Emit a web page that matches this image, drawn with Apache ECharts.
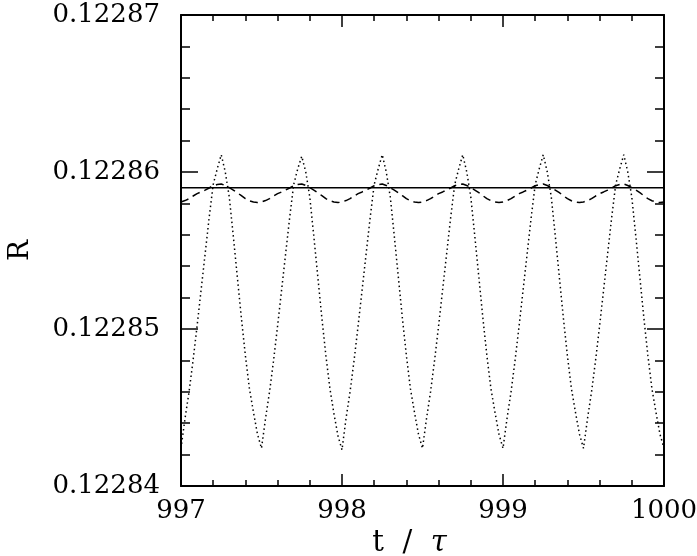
<!DOCTYPE html>
<html>
<head>
<meta charset="utf-8">
<script src="https://cdn.jsdelivr.net/npm/echarts@6/dist/echarts.min.js"></script>
<style>
  html, body { margin: 0; padding: 0; background: #fff; }
  #chart { width: 697px; height: 556px; }
</style>
</head>
<body>
<div id="chart"></div>
<script>
// sample times t / tau
const times = [
  997.000, 997.025, 997.050, 997.075, 997.100, 997.125, 997.150, 997.175, 997.200, 997.225,
  997.250, 997.275, 997.300, 997.325, 997.350, 997.375, 997.400, 997.425, 997.450, 997.475,
  997.500, 997.525, 997.550, 997.575, 997.600, 997.625, 997.650, 997.675, 997.700, 997.725,
  997.750, 997.775, 997.800, 997.825, 997.850, 997.875, 997.900, 997.925, 997.950, 997.975,
  998.000, 998.025, 998.050, 998.075, 998.100, 998.125, 998.150, 998.175, 998.200, 998.225,
  998.250, 998.275, 998.300, 998.325, 998.350, 998.375, 998.400, 998.425, 998.450, 998.475,
  998.500, 998.525, 998.550, 998.575, 998.600, 998.625, 998.650, 998.675, 998.700, 998.725,
  998.750, 998.775, 998.800, 998.825, 998.850, 998.875, 998.900, 998.925, 998.950, 998.975,
  999.000, 999.025, 999.050, 999.075, 999.100, 999.125, 999.150, 999.175, 999.200, 999.225,
  999.250, 999.275, 999.300, 999.325, 999.350, 999.375, 999.400, 999.425, 999.450, 999.475,
  999.500, 999.525, 999.550, 999.575, 999.600, 999.625, 999.650, 999.675, 999.700, 999.725,
  999.750, 999.775, 999.800, 999.825, 999.850, 999.875, 999.900, 999.925, 999.950, 999.975,
  1000.000
];

// dotted curve
const dottedR = [
  0.1228424, 0.1228443, 0.1228460, 0.1228480, 0.1228502, 0.1228525, 0.1228548, 0.1228571, 0.1228592, 0.1228602,
  0.1228611, 0.1228600, 0.1228584, 0.1228559, 0.1228533, 0.1228507, 0.1228483, 0.1228462, 0.1228447, 0.1228433,
  0.1228424, 0.1228443, 0.1228460, 0.1228480, 0.1228502, 0.1228525, 0.1228548, 0.1228571, 0.1228592, 0.1228602,
  0.1228610, 0.1228600, 0.1228584, 0.1228559, 0.1228533, 0.1228507, 0.1228483, 0.1228462, 0.1228446, 0.1228432,
  0.1228423, 0.1228443, 0.1228460, 0.1228480, 0.1228502, 0.1228525, 0.1228548, 0.1228571, 0.1228592, 0.1228602,
  0.1228611, 0.1228600, 0.1228584, 0.1228559, 0.1228533, 0.1228507, 0.1228483, 0.1228462, 0.1228447, 0.1228433,
  0.1228424, 0.1228443, 0.1228460, 0.1228480, 0.1228502, 0.1228525, 0.1228548, 0.1228571, 0.1228592, 0.1228602,
  0.1228611, 0.1228600, 0.1228584, 0.1228559, 0.1228533, 0.1228507, 0.1228483, 0.1228462, 0.1228447, 0.1228433,
  0.1228424, 0.1228443, 0.1228460, 0.1228480, 0.1228502, 0.1228525, 0.1228548, 0.1228571, 0.1228592, 0.1228602,
  0.1228611, 0.1228600, 0.1228584, 0.1228559, 0.1228533, 0.1228507, 0.1228483, 0.1228462, 0.1228447, 0.1228433,
  0.1228424, 0.1228443, 0.1228460, 0.1228480, 0.1228502, 0.1228525, 0.1228548, 0.1228571, 0.1228592, 0.1228602,
  0.1228611, 0.1228600, 0.1228584, 0.1228559, 0.1228533, 0.1228507, 0.1228483, 0.1228462, 0.1228447, 0.1228433,
  0.1228424
];

// dashed curve
const dashedR = [
  0.12285809, 0.12285818, 0.12285830, 0.12285847, 0.12285862, 0.12285873, 0.12285885, 0.12285898, 0.12285913, 0.12285920,
  0.12285924, 0.12285914, 0.12285900, 0.12285885, 0.12285868, 0.12285849, 0.12285830, 0.12285817, 0.12285809, 0.12285805,
  0.12285809, 0.12285818, 0.12285830, 0.12285847, 0.12285862, 0.12285873, 0.12285885, 0.12285898, 0.12285913, 0.12285920,
  0.12285924, 0.12285914, 0.12285900, 0.12285885, 0.12285868, 0.12285849, 0.12285830, 0.12285817, 0.12285809, 0.12285805,
  0.12285809, 0.12285818, 0.12285830, 0.12285847, 0.12285862, 0.12285873, 0.12285885, 0.12285898, 0.12285913, 0.12285920,
  0.12285924, 0.12285914, 0.12285900, 0.12285885, 0.12285868, 0.12285849, 0.12285830, 0.12285817, 0.12285809, 0.12285805,
  0.12285809, 0.12285818, 0.12285830, 0.12285847, 0.12285862, 0.12285873, 0.12285885, 0.12285898, 0.12285913, 0.12285920,
  0.12285924, 0.12285914, 0.12285900, 0.12285885, 0.12285868, 0.12285849, 0.12285830, 0.12285817, 0.12285809, 0.12285805,
  0.12285809, 0.12285818, 0.12285830, 0.12285847, 0.12285862, 0.12285873, 0.12285885, 0.12285898, 0.12285913, 0.12285920,
  0.12285924, 0.12285914, 0.12285900, 0.12285885, 0.12285868, 0.12285849, 0.12285830, 0.12285817, 0.12285809, 0.12285805,
  0.12285809, 0.12285818, 0.12285830, 0.12285847, 0.12285862, 0.12285873, 0.12285885, 0.12285898, 0.12285913, 0.12285920,
  0.12285924, 0.12285914, 0.12285900, 0.12285885, 0.12285868, 0.12285849, 0.12285830, 0.12285817, 0.12285809, 0.12285805,
  0.12285809
];

// solid (constant) line
const solidT = [997, 1000];
const solidR = [0.1228590, 0.1228590];

const font = 'DejaVu Serif';

function pairs(xs, ys) {
    return xs.map((x, i) => [x, ys[i]]);
}

function xAxisDef(pos, labels) {
    return {
        type: 'value',
        position: pos,
        min: 997,
        max: 1000,
        interval: 1,
        axisLine: { show: true, onZero: false, lineStyle: { color: '#000', width: 2 } },
        axisTick: { show: true, inside: true, length: 12, lineStyle: { color: '#000', width: 1.5 } },
        minorTick: { show: true, splitNumber: 5, length: 6, lineStyle: { color: '#000', width: 1.5 } },
        splitLine: { show: false },
        axisLabel: {
            show: labels,
            color: '#000',
            fontFamily: font,
            fontSize: 26,
            margin: 12,
            formatter: v => String(Math.round(v))
        }
    };
}

function yAxisDef(pos, labels) {
    return {
        type: 'value',
        position: pos,
        min: 0.12284,
        max: 0.12287,
        interval: 0.00001,
        axisLine: { show: true, onZero: false, lineStyle: { color: '#000', width: 2 } },
        axisTick: { show: true, inside: true, length: 17, lineStyle: { color: '#000', width: 1.5 } },
        minorTick: { show: true, splitNumber: 5, length: 9, lineStyle: { color: '#000', width: 1.5 } },
        splitLine: { show: false },
        axisLabel: {
            show: labels,
            color: '#000',
            fontFamily: font,
            fontSize: 26,
            margin: 21,
            formatter: v => v.toFixed(5)
        }
    };
}

const chart = echarts.init(document.getElementById('chart'));

const xBottom = xAxisDef('bottom', true);
xBottom.name = '{a|t  /  }{b|τ}';
xBottom.nameLocation = 'middle';
xBottom.nameGap = 33;
xBottom.nameTextStyle = {
    padding: [0, 26, 0, 0],
    rich: {
        a: { fontFamily: font, fontSize: 29, color: '#000' },
        b: { fontFamily: font, fontSize: 29, fontStyle: 'italic', color: '#000' }
    }
};

const yLeft = yAxisDef('left', true);
yLeft.name = 'R';
yLeft.nameLocation = 'middle';
yLeft.nameGap = 146;
yLeft.nameTextStyle = { fontFamily: font, fontSize: 28, color: '#000' };

chart.setOption({
    animation: false,
    backgroundColor: '#fff',
    grid: { left: 181, right: 33, top: 15, bottom: 70, containLabel: false, outerBoundsMode: 'none' },
    xAxis: [xBottom, xAxisDef('top', false)],
    yAxis: [yLeft, yAxisDef('right', false)],
    series: [
        {
            type: 'line',
            data: pairs(solidT, solidR),
            showSymbol: false,
            lineStyle: { color: '#000', width: 1.5, type: 'solid' }
        },
        {
            type: 'line',
            data: pairs(times, dashedR),
            showSymbol: false,
            lineStyle: { color: '#000', width: 1.5, type: [8, 5] }
        },
        {
            type: 'line',
            data: pairs(times, dottedR),
            showSymbol: false,
            lineStyle: { color: '#000', width: 1.5, type: [1.5, 3] }
        }
    ]
});
</script>
</body>
</html>
